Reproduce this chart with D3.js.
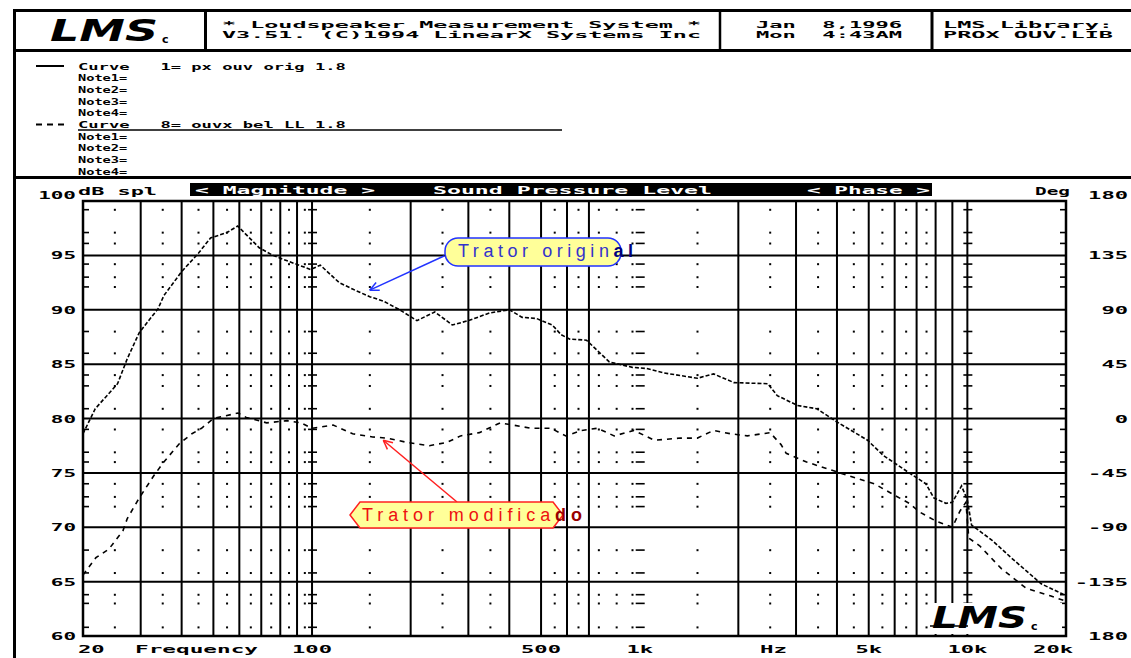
<!DOCTYPE html>
<html>
<head>
<meta charset="utf-8">
<script src="https://cdn.jsdelivr.net/npm/d3@7"></script>
<style>
  html, body { margin: 0; padding: 0; background: #fff; }
  svg { display: block; }
  .mono { font-family: "DejaVu Sans Mono", "Liberation Mono", monospace; font-weight: bold; }
</style>
</head>
<body>
<svg id="chart" width="1131" height="658"></svg>
<script>
// LMS screen dump: SPL of two curves, log frequency axis

// Curve 1 "Trator original" (solid)
const origFreq = [20, 21.8, 25.5, 27.3, 29.7, 33.9, 35.3, 40, 45, 49, 55, 59.3, 69, 76, 84, 99, 106, 121, 133, 150, 165, 185,
  209, 237, 268, 300, 348, 400, 438, 484, 541, 576, 612, 688, 808, 950, 1050, 1180, 1500, 1680, 1940, 2460, 2630,
  3030, 3470, 3990, 4960, 5540, 6800, 7470, 7900, 8600, 9000, 9600, 10000, 10300, 11900, 13600, 16800, 19400, 20000];
const origDb = [78.6, 80.9, 83.2, 85.5, 87.9, 90.1, 91.3, 93.5, 95.2, 96.6, 97.1, 97.7, 95.7, 95.0, 94.5, 93.7, 94.1, 92.5, 91.9, 91.2, 90.8, 90.0,
  89.0, 89.8, 88.6, 89.0, 89.7, 90.0, 89.3, 89.2, 88.6, 87.7, 87.3, 87.2, 85.2, 84.7, 84.6, 84.2, 83.7, 84.1, 83.3, 83.2, 82.1,
  81.2, 80.9, 79.7, 78.0, 76.6, 74.8, 74.0, 72.7, 72.2, 72.3, 73.8, 72.5, 70.2, 68.8, 67.2, 64.8, 63.9, 63.7];

// Curve 8 "Trator modificado" (dashed)
const modFreq = [20, 20.8, 21.9, 24, 26.5, 27.3, 29.7, 33, 35.3, 39.4, 43, 46, 50, 59.4, 63, 72.7, 84, 92.6, 100, 116, 133, 153,
  169, 195, 228, 258, 284, 324, 375, 410, 466, 536, 595, 664, 743, 836, 960, 1110, 1330, 1500, 1680, 1890, 2130, 2500,
  2700, 2800, 3230, 3990, 4490, 5200, 6030, 6650, 7150, 7980, 9000, 9500, 9900, 10100, 10900, 12700, 15100, 17900, 20000];
const modDb = [65.6, 66.3, 67.2, 68.0, 69.7, 70.8, 72.7, 74.8, 76.0, 77.7, 78.6, 79.1, 80.0, 80.5, 80.1, 79.6, 79.8, 79.6, 79.1, 79.4, 78.6, 78.3,
  78.2, 77.8, 77.5, 77.8, 78.4, 78.7, 79.6, 79.4, 79.1, 79.1, 78.4, 78.9, 79.1, 78.4, 78.9, 78.0, 78.2, 78.2, 78.9, 78.6, 78.4, 78.7,
  77.6, 76.8, 76.0, 75.1, 74.6, 74.0, 72.9, 72.2, 71.4, 70.6, 70.0, 71.5, 72.3, 69.0, 68.3, 66.2, 64.4, 63.7, 63.2];

// grid as it survives in the scan
const majorFreqs = [30, 40, 50, 60, 70, 80, 90, 100, 200, 300, 400, 500, 600, 700, 2000, 3000, 4000, 5000, 6000, 7000, 8000, 9000, 10000];
const dotFreqs = [25, 35, 45, 55, 65, 75, 85, 95, 150, 250, 350, 550, 650, 750, 850, 950, 1500, 2500, 3500, 4500, 5500, 6500, 7500];
const tickFreqs = [100, 1000, 10000];
const majorDb = [95, 90, 85, 80, 75, 70, 65];
const minorDb = [99.2, 97.1, 96.1, 94.2, 93, 92.1, 88, 86, 84, 83, 80.9, 79, 76.9, 76, 74, 72.8, 71.9, 67.9, 65.8, 63.8, 63, 60.8];

// axis labels
const dbValues = [100, 95, 90, 85, 80, 75, 70, 65, 60];
const dbLabels = ["100", "95", "90", "85", "80", "75", "70", "65", "60"];
const phaseValues = [180, 135, 90, 45, 0, -45, -90, -135, -180];
const phaseLabels = ["180", "135", "90", "45", "0", "-45", "-90", "-135", "180"];
const freqValues = [20, 100, 500, 1000, 5000, 10000, 20000];
const freqLabels = ["20", "100", "500", "1k", "5k", "10k", "20k"];

// header / legend text
const titleLines = ["* Loudspeaker Measurement System *", "V3.51. (C)1994 LinearX Systems Inc"];
const dateLines = ["Jan  8,1996", "Mon  4:43AM"];
const libraryLines = ["LMS Library:", "PROX OUV.LIB"];
const legendRows = ["Curve   1= px ouv orig 1.8", "Note1=", "Note2=", "Note3=", "Note4=",
  "Curve   8= ouvx bel LL 1.8", "Note1=", "Note2=", "Note3=", "Note4="];

const svg = d3.select("#chart");
const W = 1131, H = 658;

svg.append("rect").attr("width", W).attr("height", H).attr("fill", "#fff");

// plot area
const plot = { left: 83, right: 1066, top: 201, bottom: 636 };
const x = d3.scaleLog().domain([20, 20000]).range([plot.left, plot.right]);
const y = d3.scaleLinear().domain([60, 100]).range([plot.bottom, plot.top]);
const yPhase = d3.scaleLinear().domain([-180, 180]).range([plot.bottom, plot.top]);

// helper for the stretched bitmap-ish text
function monoText(g, str, x0, base, width, size, fill, anchor) {
  return g.append("text")
    .attr("class", "mono")
    .attr("x", x0)
    .attr("y", base)
    .attr("font-size", size)
    .attr("fill", fill || "#000")
    .attr("text-anchor", anchor || "start")
    .attr("textLength", width)
    .attr("lengthAdjust", "spacingAndGlyphs")
    .style("white-space", "pre")
    .text(str);
}

// ---- outer frame and header
const frame = svg.append("g").attr("stroke", "#000");
frame.append("line").attr("x1", 13).attr("x2", W).attr("y1", 10.5).attr("y2", 10.5).attr("stroke-width", 3);
frame.append("line").attr("x1", 13).attr("x2", W).attr("y1", 50.5).attr("y2", 50.5).attr("stroke-width", 3);
frame.append("line").attr("x1", 13).attr("x2", W).attr("y1", 177.5).attr("y2", 177.5).attr("stroke-width", 3);
frame.append("line").attr("x1", 14.5).attr("x2", 14.5).attr("y1", 9).attr("y2", H).attr("stroke-width", 3);
[[205.5, 3], [720, 2.5], [932, 3]].forEach(([sx, sw]) => {
  frame.append("line").attr("x1", sx).attr("x2", sx).attr("y1", 10).attr("y2", 51).attr("stroke-width", sw);
});

const header = svg.append("g");
titleLines.forEach((t, i) => monoText(header, t, 222, 27.5 + i * 10.5, 479, 9));
dateLines.forEach((t, i) => monoText(header, t, 756, 27.5 + i * 10.5, 146, 9));
libraryLines.forEach((t, i) => monoText(header, t, 943, 27.5 + i * 10.5, 170, 9));

// logo
function drawLogo(g, lx, base, w) {
  g.append("text")
    .attr("x", lx).attr("y", base)
    .attr("font-family", "DejaVu Sans")
    .attr("font-weight", "bold")
    .attr("font-style", "italic")
    .attr("font-size", 30)
    .attr("textLength", w)
    .attr("lengthAdjust", "spacingAndGlyphs")
    .text("LMS");
  g.append("text")
    .attr("x", lx + w + 4).attr("y", base + 2)
    .attr("font-family", "DejaVu Sans")
    .attr("font-weight", "bold")
    .attr("font-size", 11)
    .text("c");
}
drawLogo(header, 50, 41, 108);

// ---- legend block
const legend = svg.append("g");
legendRows.forEach((t, i) => {
  const cy = 66 + i * 11.7;
  const isCurve = t.startsWith("Curve");
  monoText(legend, t, 78, cy + 3.5, t.length * (isCurve ? 10.3 : 8.2), 9.5);
  if (i === 0) {
    legend.append("line").attr("x1", 36).attr("x2", 64).attr("y1", cy).attr("y2", cy)
      .attr("stroke", "#000").attr("stroke-width", 2);
  }
  if (i === 5) {
    legend.append("line").attr("x1", 36).attr("x2", 64).attr("y1", cy).attr("y2", cy)
      .attr("stroke", "#000").attr("stroke-width", 2).attr("stroke-dasharray", "6,5");
    legend.append("line").attr("x1", 78).attr("x2", 562).attr("y1", cy + 5.5).attr("y2", cy + 5.5)
      .attr("stroke", "#000").attr("stroke-width", 1.5);
  }
});

// ---- plot title bar
const bar = svg.append("g");
bar.append("rect").attr("x", 190).attr("y", 183).attr("width", 742).attr("height", 13).attr("fill", "#000");
monoText(bar, "< Magnitude >", 195, 194, 180, 11, "#fff");
monoText(bar, "Sound Pressure Level", 433, 194, 279, 11, "#fff");
monoText(bar, "< Phase >", 807, 194, 123, 11, "#fff");
monoText(bar, "dB spl", 78, 195, 79, 11);
monoText(bar, "Deg", 1035, 195, 35, 11);

// ---- grid
const grid = svg.append("g");

grid.selectAll(".vmajor")
  .data(majorFreqs)
  .enter().append("line")
  .attr("x1", d => x(d)).attr("x2", d => x(d))
  .attr("y1", plot.top).attr("y2", plot.bottom)
  .attr("stroke", "#000").attr("stroke-width", 2);

grid.selectAll(".hmajor")
  .data(majorDb)
  .enter().append("line")
  .attr("x1", plot.left).attr("x2", plot.right)
  .attr("y1", d => y(d)).attr("y2", d => y(d))
  .attr("stroke", "#000").attr("stroke-width", 2);

// dotted minor grid
const dots = [];
dotFreqs.forEach(f => minorDb.forEach(v => dots.push([f, v])));
grid.selectAll(".dot")
  .data(dots)
  .enter().append("rect")
  .attr("x", d => x(d[0]) - 0.9).attr("y", d => y(d[1]) - 0.9)
  .attr("width", 2).attr("height", 2)
  .attr("fill", "#000");

// short ticks on decade columns and frame edges
const ticks = [];
tickFreqs.forEach(f => minorDb.forEach(v => ticks.push([x(f) - 4, x(f) + 5, v])));
minorDb.forEach(v => {
  ticks.push([plot.left, plot.left + 6, v]);
  ticks.push([plot.right - 6, plot.right, v]);
});
grid.selectAll(".tick")
  .data(ticks)
  .enter().append("line")
  .attr("x1", d => d[0]).attr("x2", d => d[1])
  .attr("y1", d => y(d[2])).attr("y2", d => y(d[2]))
  .attr("stroke", "#000").attr("stroke-width", 1.6);

// ---- curves
const line = d3.line()
  .x(d => x(d[0]))
  .y(d => y(d[1]));

svg.append("path")
  .datum(d3.zip(origFreq, origDb))
  .attr("d", line)
  .attr("fill", "none")
  .attr("stroke", "#000")
  .attr("stroke-width", 1.6)
  .attr("stroke-dasharray", "4,2");

svg.append("path")
  .datum(d3.zip(modFreq, modDb))
  .attr("d", line)
  .attr("fill", "none")
  .attr("stroke", "#000")
  .attr("stroke-width", 1.6)
  .attr("stroke-dasharray", "5,5");

// plot frame
svg.append("rect")
  .attr("x", plot.left).attr("y", plot.top)
  .attr("width", plot.right - plot.left).attr("height", plot.bottom - plot.top)
  .attr("fill", "none").attr("stroke", "#000").attr("stroke-width", 2.5);

// ---- axis labels
const labels = svg.append("g");
dbValues.forEach((v, i) => {
  const base = y(v) + 4 - (i === 0 ? 6 : 0);
  monoText(labels, dbLabels[i], 76, base, dbLabels[i].length * 12.6, 11, "#000", "end");
});
phaseValues.forEach((v, i) => {
  const base = yPhase(v) + 4 - (i === 0 ? 6 : 0);
  monoText(labels, phaseLabels[i], 1128, base, phaseLabels[i].length * 13.3, 11, "#000", "end");
});
freqValues.forEach((f, i) => {
  const t = freqLabels[i];
  const w = t.length * 13.3;
  let anchor = "middle", px = x(f);
  if (i === 0) { anchor = "start"; px = 78; }
  if (i === freqValues.length - 1) { anchor = "end"; px = 1073; }
  monoText(labels, t, px, 653, w, 11, "#000", anchor);
});
monoText(labels, "Frequency", 135, 653, 123, 11);
monoText(labels, "Hz", 760, 653, 27, 11);

// ---- bottom-right logo
const logo2 = svg.append("g");
logo2.append("rect").attr("x", 928).attr("y", 603).attr("width", 134).attr("height", 31).attr("fill", "#fff");
drawLogo(logo2, 932, 628, 95);
logo2.append("line").attr("x1", 930).attr("x2", 968).attr("y1", 626).attr("y2", 626)
  .attr("stroke", "#000").attr("stroke-width", 1.5);

// ---- callouts
function arrow(g, x1, y1, x2, y2, color) {
  g.append("line").attr("x1", x1).attr("y1", y1).attr("x2", x2).attr("y2", y2)
    .attr("stroke", color).attr("stroke-width", 1.5);
  const a = Math.atan2(y1 - y2, x1 - x2);
  [-0.45, 0.45].forEach(da => {
    g.append("line")
      .attr("x1", x2).attr("y1", y2)
      .attr("x2", x2 + 10 * Math.cos(a + da)).attr("y2", y2 + 10 * Math.sin(a + da))
      .attr("stroke", color).attr("stroke-width", 1.5);
  });
}

const notes = svg.append("g");
// points the arrows at the curves
const origTip = [x(150), y(91.8)];
const modTip = [x(165), y(78.0)];

arrow(notes, 444, 256, origTip[0], origTip[1], "#2233ff");
notes.append("rect")
  .attr("x", 445).attr("y", 238).attr("width", 176).attr("height", 28).attr("rx", 13)
  .attr("fill", "#ffff99").attr("stroke", "#2233ff").attr("stroke-width", 1.5);
const t1 = notes.append("text")
  .attr("x", 458).attr("y", 257)
  .attr("font-family", "Liberation Sans, Arial, sans-serif")
  .attr("font-size", 18)
  .attr("textLength", 175)
  .attr("lengthAdjust", "spacing");
t1.append("tspan").attr("fill", "#3333cc").text("Trator origin");
t1.append("tspan").attr("fill", "#000080").attr("font-weight", "bold").text("al");

arrow(notes, 457, 502, modTip[0], modTip[1], "#ff2020");
notes.append("path")
  .attr("d", "M350,515 L360,502 L553,502 L563,515 L553,528 L360,528 Z")
  .attr("fill", "#ffff99").attr("stroke", "#ff2020").attr("stroke-width", 1.5);
const t2 = notes.append("text")
  .attr("x", 362).attr("y", 521)
  .attr("font-family", "Liberation Sans, Arial, sans-serif")
  .attr("font-size", 18)
  .attr("textLength", 220)
  .attr("lengthAdjust", "spacing");
t2.append("tspan").attr("fill", "#ee1111").text("Trator modifica");
t2.append("tspan").attr("fill", "#990000").attr("font-weight", "bold").text("do");
</script>
</body>
</html>
